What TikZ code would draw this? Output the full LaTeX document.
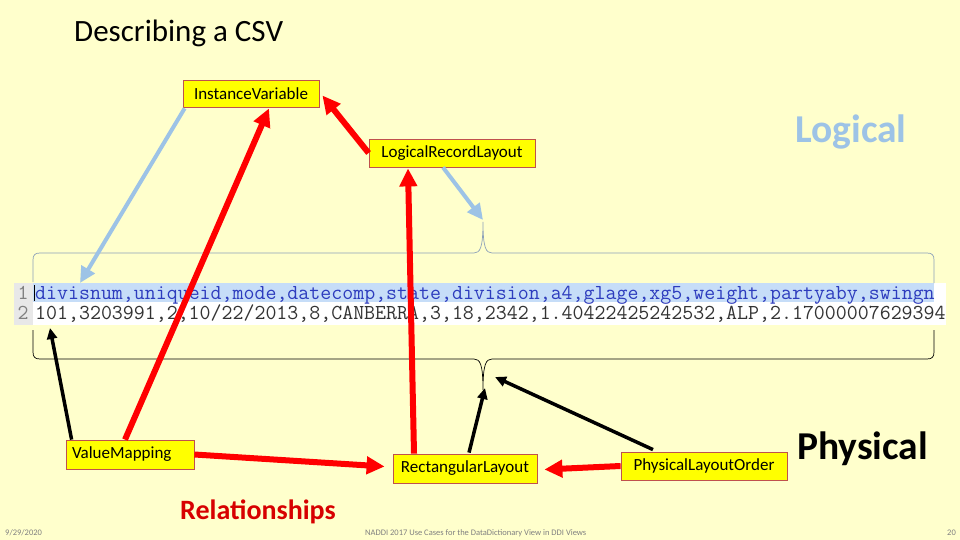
\documentclass[tikz,border=0pt]{standalone}
\usepackage{fontspec}
\setmainfont{Carlito}
\usetikzlibrary{arrows.meta,calc}
\definecolor{bg}{RGB}{255,255,204}
\definecolor{boxfill}{RGB}{255,255,0}
\definecolor{boxline}{RGB}{192,80,77}
\definecolor{lblue}{RGB}{157,195,230}
\definecolor{bracegrey}{RGB}{140,160,185}
\definecolor{relred}{RGB}{215,0,0}
\definecolor{hilite}{RGB}{198,221,248}
\definecolor{csvblue}{RGB}{45,60,190}
\definecolor{gutter}{RGB}{232,232,232}
\tikzset{
  cls/.style={draw=boxline, fill=boxfill, line width=0.8pt, inner sep=0pt,
    font=\fontsize{17}{19}\selectfont, text=black},
  redarrow/.style={draw=red, line width=6pt, -{Triangle[length=18pt,width=17pt]}},
  blackarrow/.style={draw=black, line width=3.5pt, -{Triangle[length=11pt,width=10pt]}},
  bluearrow/.style={draw=lblue, line width=4pt, -{Triangle[length=16pt,width=15pt]}},
  csvline/.style={anchor=base west, inner sep=0pt, font=\ttfamily\fontsize{21.3}{23}\selectfont},
  lineno/.style={anchor=base, inner sep=0pt, text=gray, font=\ttfamily\fontsize{21.3}{23}\selectfont},
  footer/.style={inner sep=0pt, anchor=base west, text=gray, font=\fontsize{8.5}{10}\selectfont},
}
\begin{document}
\begin{tikzpicture}[x=1pt,y=-1pt]
\useasboundingbox (0,0) rectangle (960,540);
\fill[bg] (0,0) rectangle (960,540);

% title
\node[inner sep=0pt, anchor=base west, font=\fontsize{31}{34}\selectfont] (title) at (74,42) {Describing a CSV};

% CSV area
\fill[white] (14,283) rectangle (946,325);
\fill[gutter] (14,283) rectangle (33,325);
\fill[hilite] (33,283) rectangle (934,302);
\draw[black, line width=0.6pt] (34,285) -- (34,301);
\node[lineno] (n1) at (23,299) {1};
\node[lineno] (n2) at (23,319) {2};
\node[csvline, text=csvblue] (l1) at (35,299) {divisnum,uniqueid,mode,datecomp,state,division,a4,glage,xg5,weight,partyaby,swingn};
\node[csvline, text=black!80] (l2) at (35,319) {101,3203991,2,10/22/2013,8,CANBERRA,3,18,2342,1.40422425242532,ALP,2.17000007629394};

% braces
\draw[bracegrey, line width=0.7pt] (33,282) -- (33,260) .. controls (33,255) and (35,253) .. (40,253)
  -- (474,253) .. controls (480,253) and (483,248) .. (483,222)
  .. controls (483,248) and (486,253) .. (492,253) -- (927,253)
  .. controls (932,253) and (934,255) .. (934,260) -- (934,283);
\draw[black, line width=0.7pt] (33,330) -- (33,352) .. controls (33,357) and (35,359) .. (40,359)
  -- (474,359) .. controls (480,359) and (483,364) .. (483,390)
  .. controls (483,364) and (486,359) .. (492,359) -- (927,359)
  .. controls (932,359) and (934,357) .. (934,352) -- (934,330);
\coordinate (topbrace) at (483,220);
\coordinate (botbrace) at (485,388);
\coordinate (rowstart) at (80,283);
\coordinate (linenums) at (50,328);
\coordinate (botright) at (495,377);

% class boxes
\node[cls, minimum width=136pt, minimum height=27pt] (IV) at (251,93.5) {InstanceVariable};
\node[cls, minimum width=166pt, minimum height=28pt] (LRL) at (452,153) {LogicalRecordLayout};
\node[cls, inner xsep=6pt, text width=116pt, align=left, minimum height=29pt] (VM) at (130,454.5) {ValueMapping};
\node[cls, minimum width=144pt, minimum height=29pt] (RL) at (465,468.5) {RectangularLayout};
\node[cls, minimum width=166pt, minimum height=28pt] (PLO) at (704,466) {PhysicalLayoutOrder};

% labels
\node[inner sep=0pt, anchor=base west, text=lblue, font=\bfseries\fontsize{39.5}{44}\selectfont] (logical) at (795,143) {Logical};
\node[inner sep=0pt, anchor=base west, text=black, font=\bfseries\fontsize{39.5}{44}\selectfont] (physical) at (797,459) {Physical};
\node[inner sep=0pt, anchor=base west, text=relred, font=\bfseries\fontsize{28}{32}\selectfont] (rel) at (180,519) {Relationships};

% footer
\node[footer] (date) at (5,535) {9/29/2020};
\node[footer] (conf) at (365,535) {NADDI 2017 Use Cases for the DataDictionary View in DDI Views};
\node[footer] (page) at (947,535) {20};

% blue arrows
\draw[bluearrow] ($(IV.south west)+(2,1)$) -- (rowstart);
\draw[bluearrow] ($(LRL.south)+(-9,0)$) -- (topbrace);

% red arrows
\draw[redarrow] (LRL.west) -- ($(IV.east)+(3,2)$);
\draw[redarrow] ($(VM.north)+(-5,0)$) -- ($(IV.south)+(18,1)$);
\draw[redarrow] ($(RL.north)+(-51,0)$) -- ($(LRL.south)+(-44,1)$);
\draw[redarrow] (VM.east) -- ($(RL.west)+(-8,-2)$);
\draw[redarrow] (PLO.west) -- ($(RL.east)+(7,1)$);

% black arrows
\draw[blackarrow] ($(VM.north west)+(6,0)$) -- (linenums);
\draw[blackarrow] ($(RL.north)+(4,-1)$) -- (botbrace);
\draw[blackarrow] ($(PLO.north)+(-51,-2)$) -- (botright);
\end{tikzpicture}
\end{document}
